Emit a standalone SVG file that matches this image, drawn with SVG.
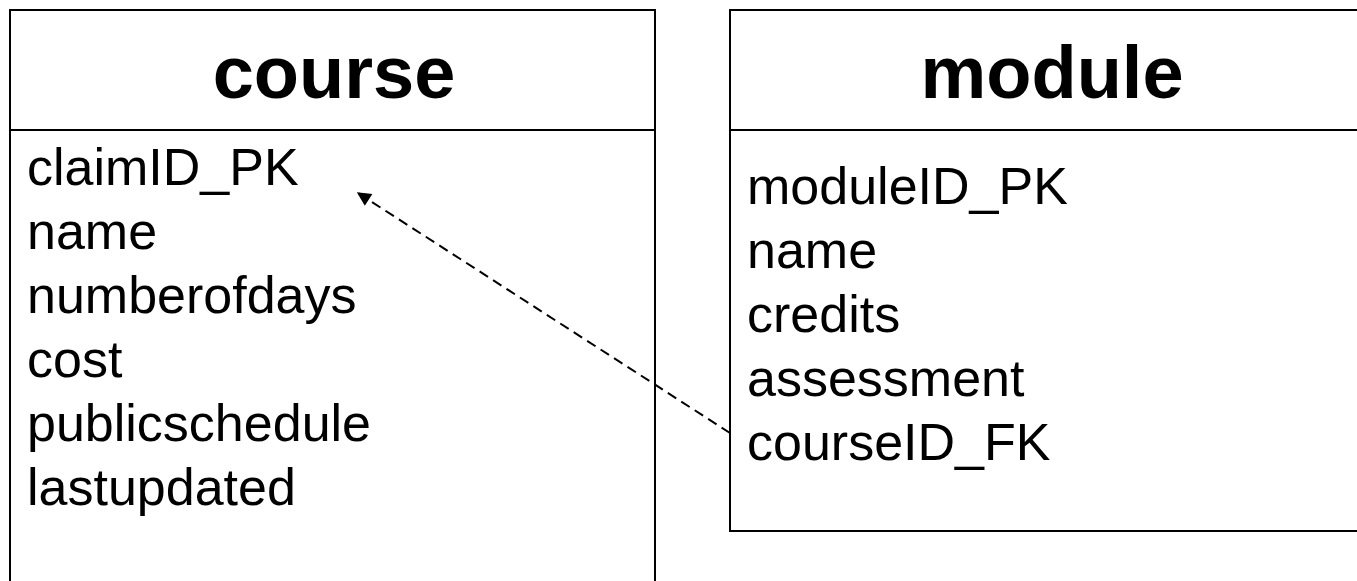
<svg xmlns="http://www.w3.org/2000/svg" width="1357" height="581" viewBox="0 0 1357 581">
<style>
.box{fill:#fff;stroke:#000;stroke-width:2}
.div{stroke:#000;stroke-width:2}
.hdr{font-family:"Liberation Sans",Arial,sans-serif;font-weight:bold;font-size:74px;fill:#000;text-anchor:middle}
.fld{font-family:"Liberation Sans",Arial,sans-serif;font-size:52px;fill:#000}
.conn{fill:none;stroke:#000;stroke-width:2;stroke-dasharray:10 6}
</style>
<defs>
<marker id="arr" viewBox="0 0 10 10" refX="9" refY="5" markerWidth="15" markerHeight="14" markerUnits="userSpaceOnUse" orient="auto">
<path d="M0,0 L10,5 L0,10 z" fill="#000"/>
</marker>
</defs>
<rect width="1357" height="581" fill="#fff"/>
<g id="course">
<rect class="box" x="10" y="10" width="645" height="600"/>
<line class="div" x1="10" y1="130" x2="655" y2="130"/>
<text class="hdr" x="334" y="98">course</text>
<text class="fld" x="27" y="185">claimID_PK</text>
<text class="fld" x="27" y="249">name</text>
<text class="fld" x="27" y="313">numberofdays</text>
<text class="fld" x="27" y="377">cost</text>
<text class="fld" x="27" y="441">publicschedule</text>
<text class="fld" x="27" y="505">lastupdated</text>
</g>
<g id="module">
<rect class="box" x="730" y="10" width="660" height="521"/>
<line class="div" x1="730" y1="130" x2="1390" y2="130"/>
<text class="hdr" x="1052" y="98">module</text>
<text class="fld" x="747" y="204">moduleID_PK</text>
<text class="fld" x="747" y="268">name</text>
<text class="fld" x="747" y="332">credits</text>
<text class="fld" x="747" y="396">assessment</text>
<text class="fld" x="747" y="460">courseID_FK</text>
</g>
<g id="connectors">
<line class="conn" x1="730" y1="433" x2="358" y2="193" marker-end="url(#arr)"/>
</g>
</svg>
